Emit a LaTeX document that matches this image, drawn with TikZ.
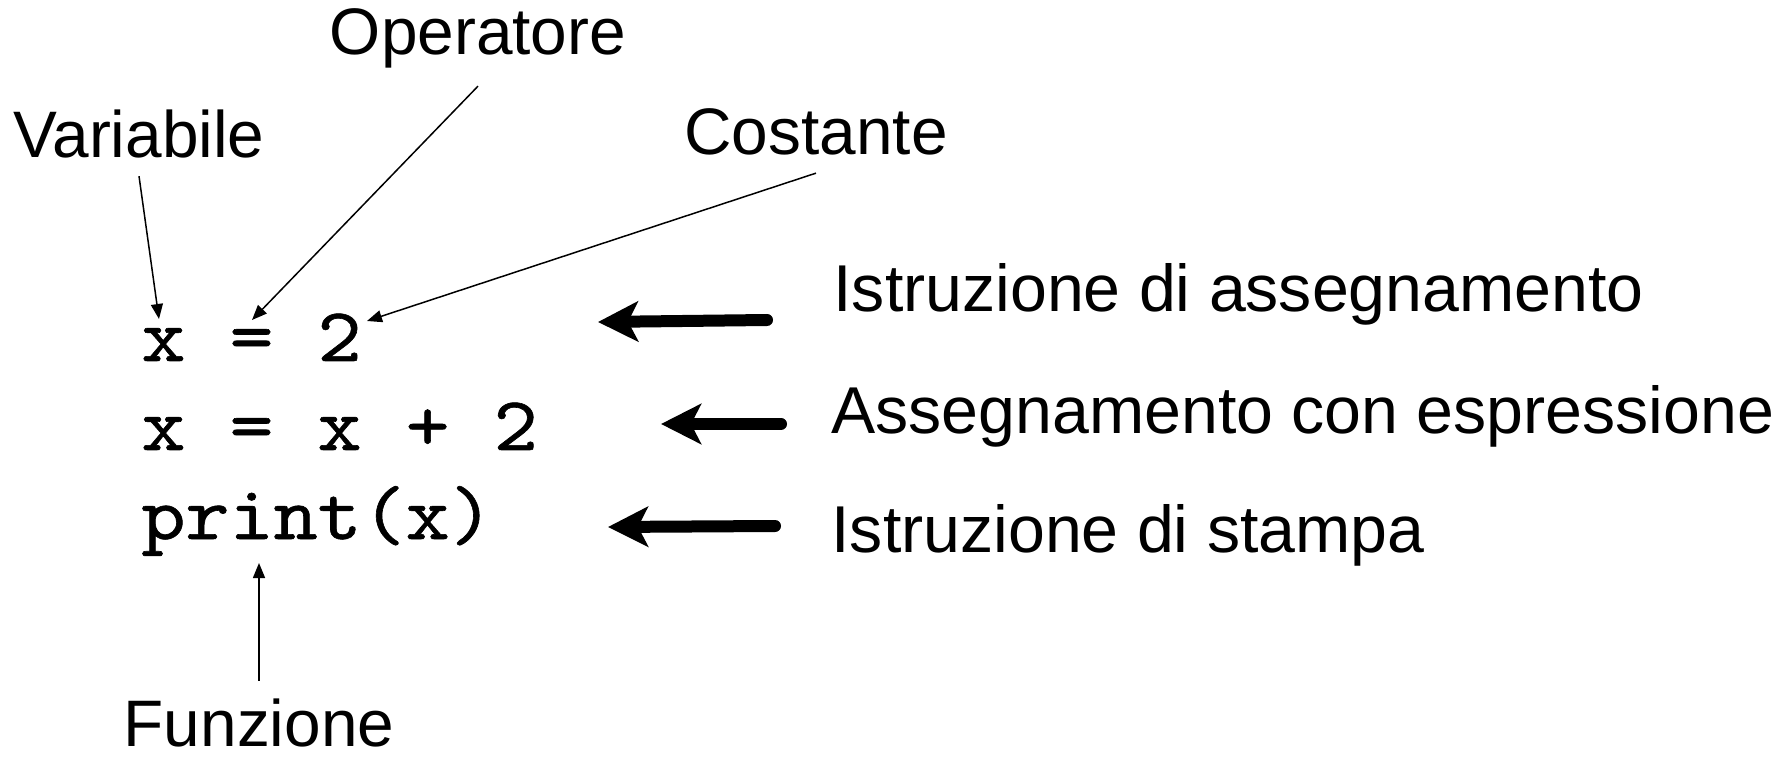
\documentclass[tikz,border=0pt]{standalone}
\usepackage{fontspec}
\setmainfont{Liberation Sans}
\newfontfamily\codefont{lmmono10-regular.otf}[FakeStretch=1.1, FakeBold=0.8]
\usetikzlibrary{arrows.meta}

\begin{document}
\begin{tikzpicture}[x=0.4pt, y=-0.4pt]
% Define
\tikzstyle{TAG} = [inner sep=0pt, outer sep=7pt, anchor=base, font=\fontsize{26.3}{31}\selectfont]
\tikzstyle{DESC} = [inner sep=0pt, anchor=base west, font=\fontsize{26.5}{31}\selectfont]
\tikzstyle{CODE} = [inner sep=0pt, anchor=base west, font=\codefont\fontsize{30.5}{36}\selectfont]
\tikzstyle{ARROW} = [line width=0.6pt, -{Triangle[length=6pt, width=4.8pt]}]
\tikzstyle{BIGARROW} = [line width=4.8pt, line cap=round, -{Stealth[length=16pt, width=16pt, inset=4pt]}]
\useasboundingbox (0,0) rectangle (1791,758);
% Place nodes
\node [CODE] (code1) at (141,361) {x = 2};
\node [CODE] (code2) at (141,450) {x = x + 2};
\node [CODE] (code3) at (141,539) {print(x)};
\node [TAG] (var) at (139,158) {Variabile};
\node [TAG] (op) at (478,55) {Operatore};
\node [TAG] (const) at (816,155) {Costante};
\node [TAG] (func) at (259,746) {Funzione};
\node [DESC] (assign) at (833,312) {Istruzione di assegnamento};
\node [DESC] (assignexpr) at (831,433) {Assegnamento con espressione};
\node [DESC] (printstmt) at (831,552) {Istruzione di stampa};
% ends of the arrows
\coordinate (xvar) at (159,319);
\coordinate (eqop) at (252,320);
\coordinate (two) at (367,321);
\coordinate (printi) at (259,563);
\coordinate (assign-from) at (767,320);
\coordinate (assign-to) at (598,322);
\coordinate (expr-from) at (781,424);
\coordinate (expr-to) at (661,424);
\coordinate (print-from) at (775,526);
\coordinate (print-to) at (608,527);
% LINES and ARROWS
\draw [ARROW] (var.south) -- (xvar);
\draw [ARROW] (op.south) -- (eqop);
\draw [ARROW] (const.south) -- (two);
\draw [ARROW] (func.north) -- (printi);
\draw [BIGARROW] (assign-from) -- (assign-to);
\draw [BIGARROW] (expr-from) -- (expr-to);
\draw [BIGARROW] (print-from) -- (print-to);
\end{tikzpicture}
\end{document}
